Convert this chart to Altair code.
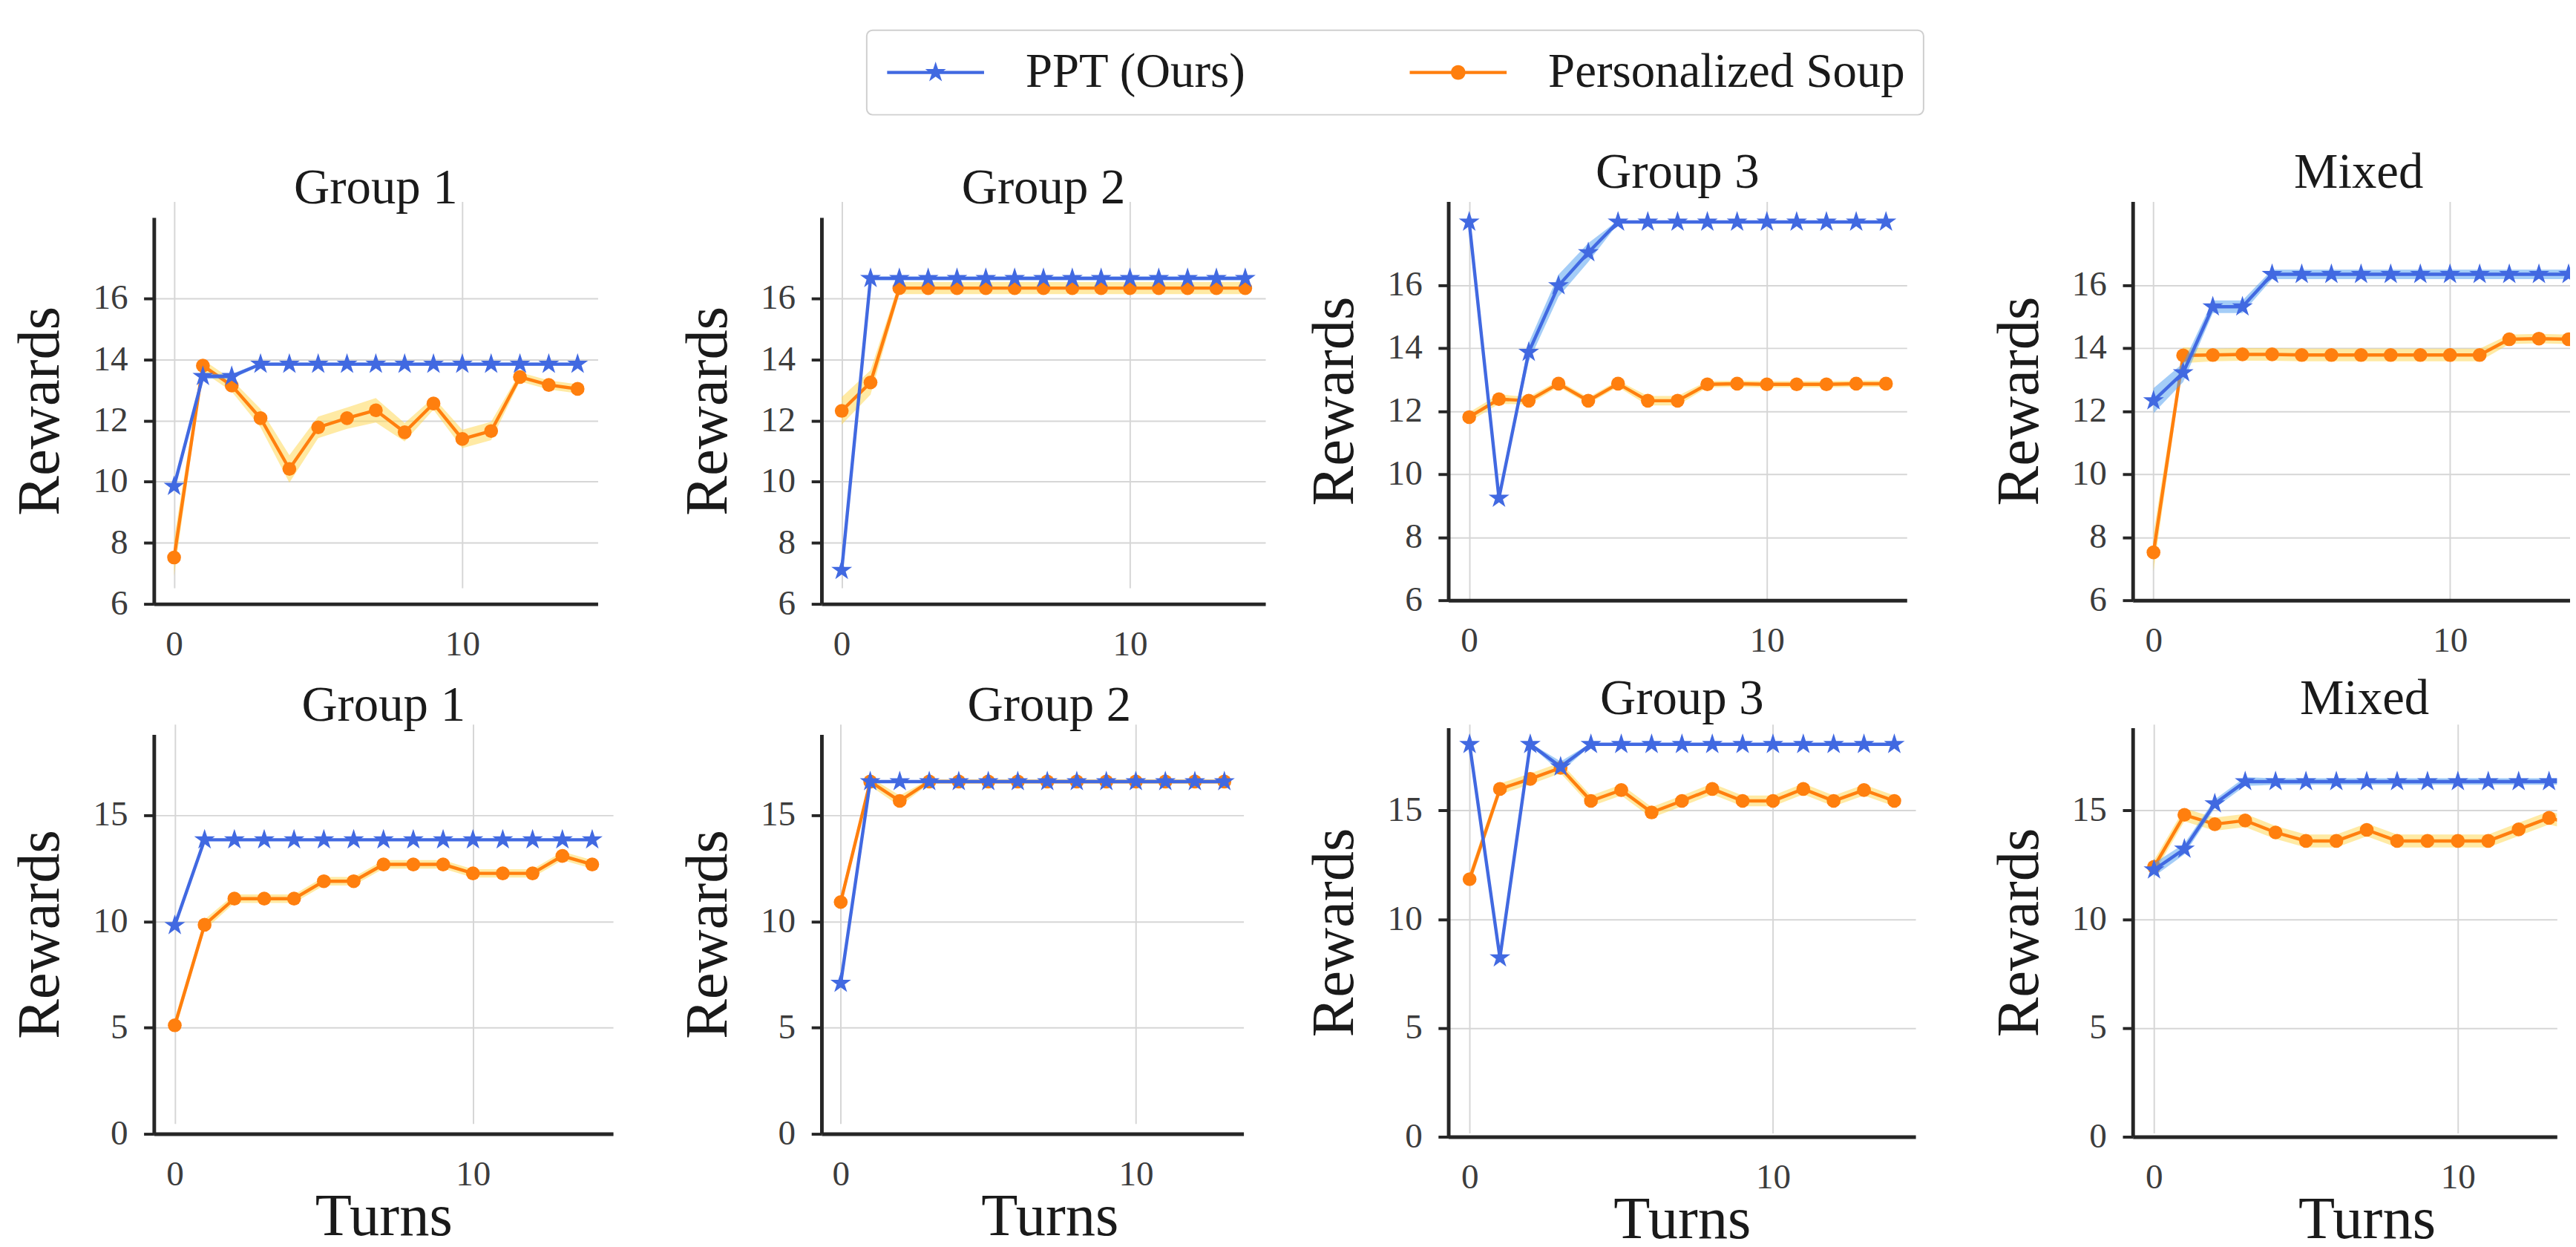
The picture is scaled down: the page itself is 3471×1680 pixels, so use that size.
import math
import altair as alt
import pandas as pd

FONT = "Liberation Serif"
SERIES = ["PPT (Ours)", "Personalized Soup"]
PANEL_TITLES = ["Group 1", "Group 2", "Group 3", "Mixed"]

TURNS_15 = [0, 1, 2, 3, 4, 5, 6, 7, 8, 9, 10, 11, 12, 13, 14]
TURNS_14 = [0, 1, 2, 3, 4, 5, 6, 7, 8, 9, 10, 11, 12, 13]

X_TICKS = [0, 10]
TOP_Y_TICKS = [6, 8, 10, 12, 14, 16]
BOTTOM_Y_TICKS = [0, 5, 10, 15]

# ---------------- top row ----------------
TOP_G1_PPT = [9.85, 13.45, 13.45, 13.85, 13.85, 13.85, 13.85, 13.85, 13.85, 13.85, 13.85, 13.85, 13.85, 13.85, 13.85]
TOP_G1_PPT_SD = [0.08, 0.08, 0.08, 0.05, 0.05, 0.05, 0.05, 0.05, 0.05, 0.05, 0.05, 0.05, 0.05, 0.05, 0.05]
TOP_G1_SOUP = [7.52, 13.80, 13.15, 12.08, 10.42, 11.78, 12.08, 12.34, 11.62, 12.56, 11.40, 11.66, 13.43, 13.17, 13.04]
TOP_G1_SOUP_SD = [0.6, 0.2, 0.2, 0.3, 0.45, 0.35, 0.35, 0.4, 0.3, 0.2, 0.3, 0.3, 0.15, 0.15, 0.15]

TOP_G2_PPT = [7.10, 16.66, 16.66, 16.66, 16.66, 16.66, 16.66, 16.66, 16.66, 16.66, 16.66, 16.66, 16.66, 16.66, 16.66]
TOP_G2_PPT_SD = [0.06, 0.06, 0.06, 0.06, 0.06, 0.06, 0.06, 0.06, 0.06, 0.06, 0.06, 0.06, 0.06, 0.06, 0.06]
TOP_G2_SOUP = [12.32, 13.25, 16.34, 16.34, 16.34, 16.34, 16.34, 16.34, 16.34, 16.34, 16.34, 16.34, 16.34, 16.34, 16.34]
TOP_G2_SOUP_SD = [0.45, 0.4, 0.2, 0.2, 0.2, 0.2, 0.2, 0.2, 0.2, 0.2, 0.2, 0.2, 0.2, 0.2, 0.2]

TOP_G3_PPT = [18.00, 9.24, 13.87, 15.98, 17.03, 18.00, 18.00, 18.00, 18.00, 18.00, 18.00, 18.00, 18.00, 18.00, 18.00]
TOP_G3_PPT_SD = [0.05, 0.05, 0.3, 0.35, 0.3, 0.05, 0.05, 0.05, 0.05, 0.05, 0.05, 0.05, 0.05, 0.05, 0.05]
TOP_G3_SOUP = [11.81, 12.38, 12.33, 12.87, 12.33, 12.87, 12.33, 12.33, 12.85, 12.87, 12.85, 12.85, 12.85, 12.87, 12.87]
TOP_G3_SOUP_SD = [0.15, 0.15, 0.12, 0.1, 0.1, 0.1, 0.15, 0.15, 0.1, 0.1, 0.1, 0.1, 0.1, 0.1, 0.1]

TOP_MX_PPT = [12.33, 13.22, 15.31, 15.31, 16.34, 16.34, 16.34, 16.34, 16.34, 16.34, 16.34, 16.34, 16.34, 16.34, 16.34]
TOP_MX_PPT_SD = [0.4, 0.3, 0.2, 0.2, 0.15, 0.15, 0.15, 0.15, 0.15, 0.15, 0.15, 0.15, 0.15, 0.15, 0.15]
TOP_MX_SOUP = [7.52, 13.77, 13.78, 13.80, 13.80, 13.78, 13.78, 13.78, 13.78, 13.78, 13.78, 13.78, 14.28, 14.30, 14.28]
TOP_MX_SOUP_SD = [0.6, 0.25, 0.2, 0.2, 0.2, 0.2, 0.2, 0.2, 0.2, 0.2, 0.2, 0.2, 0.15, 0.15, 0.15]

# ---------------- bottom row ----------------
BOT_G1_PPT = [9.81, 13.84, 13.84, 13.84, 13.84, 13.84, 13.84, 13.84, 13.84, 13.84, 13.84, 13.84, 13.84, 13.84, 13.84]
BOT_G1_PPT_SD = [0.05, 0.05, 0.05, 0.05, 0.05, 0.05, 0.05, 0.05, 0.05, 0.05, 0.05, 0.05, 0.05, 0.05, 0.05]
BOT_G1_SOUP = [5.11, 9.84, 11.07, 11.07, 11.07, 11.89, 11.89, 12.68, 12.68, 12.68, 12.26, 12.26, 12.26, 13.08, 12.68]
BOT_G1_SOUP_SD = [0.3, 0.25, 0.2, 0.2, 0.2, 0.2, 0.2, 0.2, 0.2, 0.2, 0.2, 0.2, 0.2, 0.2, 0.2]

BOT_G2_PPT = [7.09, 16.58, 16.58, 16.58, 16.58, 16.58, 16.58, 16.58, 16.58, 16.58, 16.58, 16.58, 16.58, 16.58]
BOT_G2_PPT_SD = [0.06, 0.06, 0.06, 0.06, 0.06, 0.06, 0.06, 0.06, 0.06, 0.06, 0.06, 0.06, 0.06, 0.06]
BOT_G2_SOUP = [10.91, 16.58, 15.67, 16.58, 16.58, 16.58, 16.58, 16.58, 16.58, 16.58, 16.58, 16.58, 16.58, 16.58]
BOT_G2_SOUP_SD = [0.3, 0.2, 0.25, 0.1, 0.1, 0.1, 0.1, 0.1, 0.1, 0.1, 0.1, 0.1, 0.1, 0.1]

BOT_G3_PPT = [18.04, 8.23, 18.04, 17.01, 18.04, 18.04, 18.04, 18.04, 18.04, 18.04, 18.04, 18.04, 18.04, 18.04, 18.04]
BOT_G3_PPT_SD = [0.05, 0.05, 0.05, 0.25, 0.05, 0.05, 0.05, 0.05, 0.05, 0.05, 0.05, 0.05, 0.05, 0.05, 0.05]
BOT_G3_SOUP = [11.84, 15.99, 16.45, 16.96, 15.44, 15.94, 14.91, 15.44, 15.99, 15.44, 15.44, 15.99, 15.44, 15.94, 15.44]
BOT_G3_SOUP_SD = [0.3, 0.25, 0.25, 0.25, 0.25, 0.25, 0.25, 0.25, 0.25, 0.25, 0.25, 0.25, 0.25, 0.25, 0.25]

BOT_MX_PPT = [12.27, 13.23, 15.31, 16.33, 16.33, 16.33, 16.33, 16.33, 16.33, 16.33, 16.33, 16.33, 16.33, 16.33, 16.33]
BOT_MX_PPT_SD = [0.3, 0.25, 0.2, 0.2, 0.15, 0.15, 0.15, 0.15, 0.15, 0.15, 0.15, 0.15, 0.15, 0.15, 0.15]
BOT_MX_SOUP = [12.41, 14.80, 14.37, 14.54, 13.99, 13.60, 13.60, 14.11, 13.60, 13.60, 13.60, 13.60, 14.13, 14.66, 14.30]
BOT_MX_SOUP_SD = [0.3, 0.3, 0.3, 0.3, 0.3, 0.3, 0.3, 0.3, 0.3, 0.3, 0.3, 0.3, 0.3, 0.3, 0.3]

# ---------------- styles ----------------
BLUE = "#4169E1"
ORANGE = "#FF7F0E"
BLUE_BAND = "#4A9BF0"
ORANGE_BAND = "#FFD54A"
AXIS_DARK = "#262626"


def star_path(r_out, r_in, cx=0.0):
    pts = []
    for k in range(10):
        r = r_out if k % 2 == 0 else r_in
        a = math.radians(-90 + 36 * k)
        pts.append((cx + r * math.cos(a), r * math.sin(a)))
    return "M" + " L".join(f"{x:.4f},{y:.4f}" for x, y in pts) + " Z"


STAR = star_path(1.0, 0.382)
STAR_SIZE = 900
DOT_SIZE = 360

# legend symbols: a line sample with the marker in the middle (unit = 30px)
LEG_SIZE = 3600
_line = "M-1,-0.075 L3.433,-0.075 L3.433,0.075 L-1,0.075 Z"
LEG_STAR = _line + " " + star_path(0.5, 0.19, cx=1.217)
LEG_DOT = _line + " M1.55,0 A0.333,0.333 0 1,1 0.884,0 A0.333,0.333 0 1,1 1.55,0 Z"


def panel(title, turns, ppt, ppt_sd, soup, soup_sd, x_dom, y_dom, y_ticks, w, h, y_range,
          x_title=None, title_dx=0, title_dy=0, title_x=None, clip=False, with_legend=False):
    n = len(turns)
    df = pd.DataFrame({
        "turn": list(turns) + list(turns),
        "series": [SERIES[0]] * n + [SERIES[1]] * n,
        "value": list(ppt) + list(soup),
        "sd": list(ppt_sd) + list(soup_sd),
    })
    base = alt.Chart(df).transform_calculate(
        lo="datum.value - datum.sd", hi="datum.value + datum.sd"
    )
    xaxis_kw = dict(values=X_TICKS, format="d")
    if x_title:
        xaxis_kw["title"] = x_title
        xaxis_kw["titleY"] = 73
        if title_x is not None:
            xaxis_kw["titleX"] = title_x
    else:
        xaxis_kw["title"] = None
    x = alt.X("turn:Q", scale=alt.Scale(domain=x_dom, nice=False, zero=False),
              axis=alt.Axis(**xaxis_kw))
    yscale = alt.Scale(domain=y_dom, range=y_range, nice=False, zero=False)
    yaxis = alt.Axis(values=y_ticks, format="d", title="Rewards")

    layers = []
    specs = [
        (SERIES[1], ORANGE, ORANGE_BAND, "circle", DOT_SIZE),
        (SERIES[0], BLUE, BLUE_BAND, STAR, STAR_SIZE),
    ]
    for name, line_c, band_c, shape, size in specs:
        sub = base.transform_filter(alt.datum.series == name)
        layers.append(
            sub.mark_area(color=band_c, opacity=0.5, clip=clip).encode(
                x=x, y=alt.Y("lo:Q", scale=yscale, axis=yaxis), y2="hi:Q")
        )
        layers.append(
            sub.mark_line(color=line_c, strokeWidth=4.5, clip=clip).encode(
                x=x, y=alt.Y("value:Q", scale=yscale, axis=yaxis))
        )
        layers.append(
            sub.mark_point(filled=True, shape=shape, size=size, color=line_c,
                           opacity=1, strokeWidth=0, clip=clip).encode(
                x=x, y=alt.Y("value:Q", scale=yscale, axis=yaxis))
        )
    if with_legend:
        layers.append(
            base.transform_filter("datum.turn < -1000").mark_point(
                filled=True, opacity=1, size=LEG_SIZE, strokeWidth=0).encode(
                x=x,
                y=alt.Y("value:Q", scale=yscale, axis=yaxis),
                color=alt.Color("series:N", scale=alt.Scale(domain=SERIES, range=[BLUE, ORANGE]),
                                legend=alt.Legend(title=None)),
                shape=alt.Shape("series:N", scale=alt.Scale(domain=SERIES, range=[LEG_STAR, LEG_DOT]),
                                legend=alt.Legend(title=None)),
            )
        )
    return alt.layer(*layers).properties(
        width=w, height=h, title=alt.TitleParams(text=title, dx=title_dx, dy=title_dy)
    )


def spacer(w, h):
    return alt.Chart(pd.DataFrame({"s": [0]})).mark_point(opacity=0, size=0).encode(
        x=alt.X("s:Q", axis=None, scale=alt.Scale(domain=[0, 1])),
        y=alt.Y("s:Q", axis=None, scale=alt.Scale(domain=[0, 1])),
    ).properties(width=w, height=h)


TOP_YDOM = [6, 18.65]
BOT_YDOM = [0, 18.8]
XDOM = [-0.7, 14.7]

t1 = panel(PANEL_TITLES[0], TURNS_15, TOP_G1_PPT, TOP_G1_PPT_SD, TOP_G1_SOUP, TOP_G1_SOUP_SD,
           XDOM, TOP_YDOM, TOP_Y_TICKS, 609, 552, [552, 22], title_dy=22, with_legend=True)
t2 = panel(PANEL_TITLES[1], TURNS_15, TOP_G2_PPT, TOP_G2_PPT_SD, TOP_G2_SOUP, TOP_G2_SOUP_SD,
           XDOM, TOP_YDOM, TOP_Y_TICKS, 609, 552, [552, 22], title_dy=22)
t3 = panel(PANEL_TITLES[2], TURNS_15, TOP_G3_PPT, TOP_G3_PPT_SD, TOP_G3_SOUP, TOP_G3_SOUP_SD,
           XDOM, TOP_YDOM, TOP_Y_TICKS, 629, 547, [547, 0])
t4 = panel(PANEL_TITLES[3], TURNS_15, TOP_MX_PPT, TOP_MX_PPT_SD, TOP_MX_SOUP, TOP_MX_SOUP_SD,
           [-0.7, 14.05], TOP_YDOM, TOP_Y_TICKS, 600, 547, [547, 0], title_dx=10, clip=True)

b1 = panel(PANEL_TITLES[0], TURNS_15, BOT_G1_PPT, BOT_G1_PPT_SD, BOT_G1_SOUP, BOT_G1_SOUP_SD,
           XDOM, BOT_YDOM, BOTTOM_Y_TICKS, 630, 562, [562, 14], x_title="Turns", title_dy=14)
b2 = panel(PANEL_TITLES[1], TURNS_14, BOT_G2_PPT, BOT_G2_PPT_SD, BOT_G2_SOUP, BOT_G2_SOUP_SD,
           [-0.65, 13.65], BOT_YDOM, BOTTOM_Y_TICKS, 579, 562, [562, 14], x_title="Turns",
           title_dx=23, title_dy=14, title_x=313)
b3 = panel(PANEL_TITLES[2], TURNS_15, BOT_G3_PPT, BOT_G3_PPT_SD, BOT_G3_SOUP, BOT_G3_SOUP_SD,
           XDOM, BOT_YDOM, BOTTOM_Y_TICKS, 641, 566, [566, 5], x_title="Turns", title_dy=5)
b4 = panel(PANEL_TITLES[3], TURNS_15, BOT_MX_PPT, BOT_MX_PPT_SD, BOT_MX_SOUP, BOT_MX_SOUP_SD,
           [-0.7, 13.26], BOT_YDOM, BOTTOM_Y_TICKS, 582, 566, [566, 5], x_title="Turns",
           title_dx=27, title_dy=5, title_x=321, clip=True)

cells = [
    spacer(19, 10), t1, spacer(278, 10), t2, spacer(239, 10), t3, spacer(286, 10), t4,
    spacer(1, 10), b1, spacer(286, 10), b2, spacer(251, 10), b3, spacer(298, 10), b4,
]

chart = alt.concat(
    *cells, columns=8, align="none", bounds="flush", spacing={"row": 165, "column": 0}
).properties(
    padding={"left": 6, "top": 17, "right": 0, "bottom": -14}
).configure(
    font=FONT, background="white"
).configure_view(
    strokeWidth=0
).configure_axis(
    domainColor=AXIS_DARK, domainWidth=5, tickColor=AXIS_DARK, tickWidth=4, tickSize=14,
    grid=True, gridColor="#d6d6d6", gridWidth=2,
    labelFont=FONT, labelFontSize=48, labelColor="#3c3c3c", labelPadding=22,
    labelFlush=False, labelOverlap=False,
    titleFont=FONT, titleFontSize=82, titleFontWeight="normal", titleColor="#1a1a1a",
).configure_axisX(
    ticks=False, tickSize=0, labelPadding=32,
).configure_axisY(
    titlePadding=30,
).configure_title(
    font=FONT, fontSize=68, fontWeight="normal", color="#1a1a1a", offset=5,
    anchor="middle", frame="group",
).configure_legend(
    orient="none", legendX=997, legendY=-235, direction="horizontal",
    padding=25, strokeColor="#cfcfcf", strokeWidth=2, cornerRadius=8, fillColor="white",
    labelFont=FONT, labelFontSize=66, labelColor="#1a1a1a", labelLimit=2000,
    labelOffset=127, columnPadding=221, symbolSize=LEG_SIZE, symbolStrokeWidth=0,
)

chart.save("out.html", embed_options={"renderer": "svg", "actions": False})
